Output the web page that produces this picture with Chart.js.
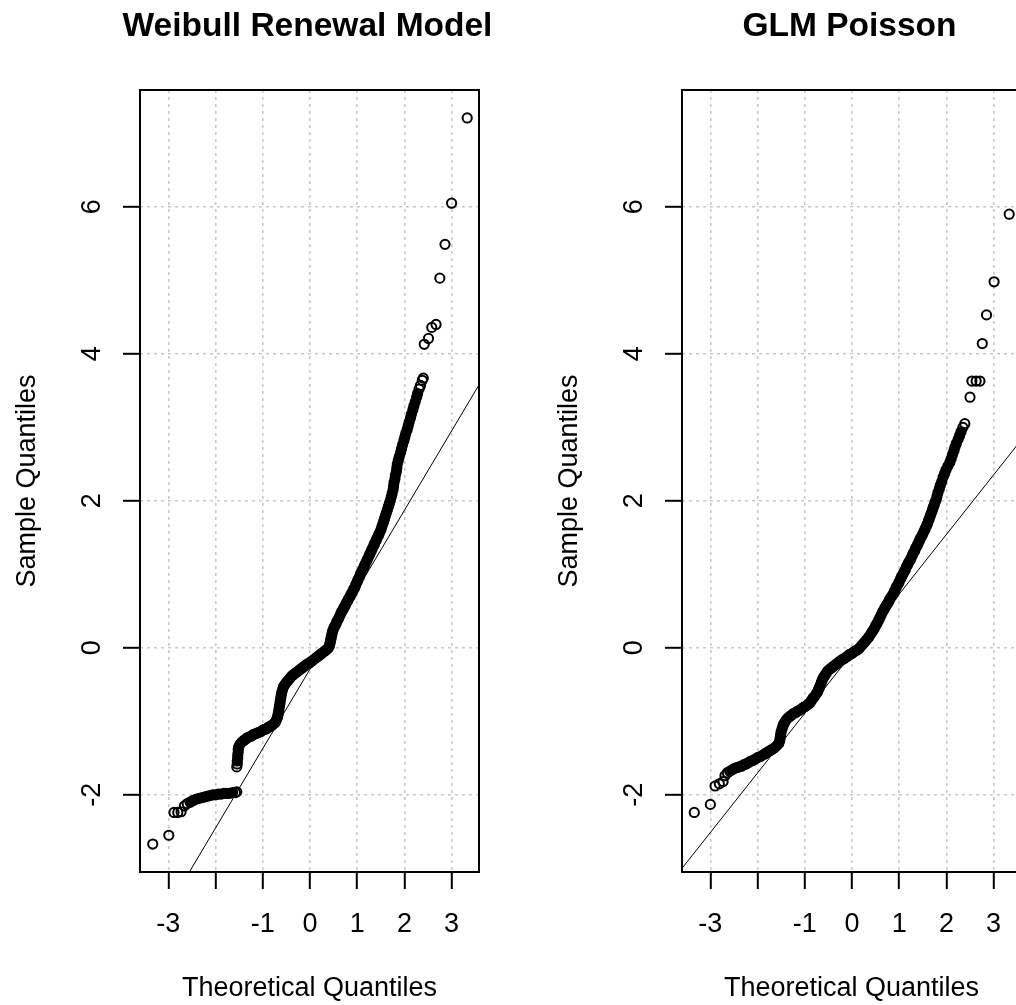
<!DOCTYPE html>
<html>
<head>
<meta charset="utf-8">
<script src="https://cdn.jsdelivr.net/npm/chart.js@4.4.0/dist/chart.umd.min.js"></script>
<style>
html, body { margin: 0; padding: 0; background: #fff; overflow: hidden; }
#lienzo { position: relative; width: 1084px; height: 1005px; }
.panel { position: absolute; top: 0; width: 542px; height: 1005px; }
</style>
</head>
<body>
<div id="lienzo">
  <div class="panel" style="left:0"><canvas id="qqWeibull" width="542" height="1005"></canvas></div>
  <div class="panel" style="left:542px"><canvas id="qqPoisson" width="542" height="1005"></canvas></div>
</div>
<script>
// cuantiles teoricos vs muestrales [x, y]
const weibullQQ = [
  [-3.33,-2.67],[-2.99,-2.55],[-2.88,-2.24],[-2.80,-2.24],[-2.73,-2.23],[-2.66,-2.15],
  [-2.60,-2.12],[-2.54,-2.10],[-2.48,-2.08],[-2.42,-2.06],[-2.36,-2.05],[-2.30,-2.04],[-2.24,-2.03],
  [-2.18,-2.02],[-2.12,-2.01],[-2.06,-2.00],[-2.00,-2.00],[-1.94,-1.99],[-1.88,-1.99],[-1.82,-1.98],
  [-1.76,-1.98],[-1.70,-1.98],[-1.64,-1.97],[-1.58,-1.97],[-1.55,-1.96],
  [-1.55,-1.62],[-1.54,-1.58],[-1.54,-1.54],[-1.53,-1.50],[-1.53,-1.46],[-1.52,-1.42],[-1.52,-1.38],[-1.51,-1.35],
  [-1.48,-1.31],[-1.44,-1.28],[-1.40,-1.26],[-1.36,-1.24],[-1.32,-1.22],[-1.28,-1.21],[-1.24,-1.20],
  [-1.20,-1.18],[-1.16,-1.17],[-1.12,-1.16],[-1.08,-1.15],[-1.04,-1.14],[-1.00,-1.12],[-0.96,-1.11],
  [-0.92,-1.10],[-0.88,-1.08],[-0.84,-1.07],[-0.80,-1.05],[-0.76,-1.03],
  [-0.73,-1.01],[-0.71,-0.98],[-0.69,-0.95],[-0.68,-0.92],[-0.67,-0.89],[-0.66,-0.85],[-0.65,-0.81],
  [-0.64,-0.77],[-0.63,-0.73],[-0.62,-0.69],[-0.61,-0.65],[-0.60,-0.61],[-0.58,-0.57],[-0.56,-0.53],
  [-0.53,-0.50],[-0.50,-0.47],[-0.46,-0.44],
  [-0.42,-0.41],[-0.38,-0.38],[-0.34,-0.36],[-0.30,-0.34],[-0.26,-0.32],[-0.22,-0.30],[-0.18,-0.28],
  [-0.14,-0.26],[-0.10,-0.24],[-0.06,-0.22],[-0.02,-0.21],[0.02,-0.19],[0.06,-0.17],[0.10,-0.15],
  [0.14,-0.13],[0.18,-0.11],[0.22,-0.09],[0.26,-0.07],[0.30,-0.05],[0.34,-0.03],[0.38,-0.01],
  [0.41,0.02],[0.42,0.05],[0.43,0.08],[0.44,0.11],[0.45,0.14],[0.46,0.17],[0.47,0.20],[0.48,0.23],[0.50,0.26],
  [0.52,0.29],[0.55,0.32],[0.57,0.36],[0.60,0.39],[0.62,0.42],[0.65,0.46],[0.67,0.49],[0.70,0.52],
  [0.72,0.55],[0.75,0.58],[0.77,0.61],[0.80,0.64],[0.82,0.67],[0.85,0.70],[0.87,0.73],[0.90,0.76],
  [0.92,0.79],[0.95,0.82],[0.97,0.86],[1.00,0.90],[1.02,0.93],[1.05,0.97],[1.07,1.01],[1.10,1.04],
  [1.12,1.07],[1.15,1.11],[1.17,1.14],[1.20,1.18],[1.22,1.21],[1.25,1.25],[1.27,1.28],[1.30,1.32],
  [1.32,1.35],[1.35,1.39],[1.37,1.42],[1.40,1.46],[1.42,1.49],[1.45,1.53],[1.47,1.56],[1.50,1.60],
  [1.52,1.64],[1.54,1.68],[1.56,1.72],[1.58,1.76],[1.60,1.80],[1.62,1.84],[1.64,1.88],[1.66,1.92],[1.68,1.96],
  [1.70,2.00],[1.72,2.05],[1.74,2.10],[1.76,2.15],[1.77,2.20],[1.78,2.25],[1.80,2.30],[1.81,2.35],
  [1.83,2.40],[1.84,2.45],[1.85,2.50],[1.87,2.55],[1.89,2.60],[1.92,2.66],[1.94,2.71],[1.96,2.76],
  [1.99,2.82],[2.01,2.87],[2.03,2.92],[2.06,2.97],[2.08,3.02],[2.10,3.07],[2.13,3.13],[2.15,3.18],
  [2.18,3.24],[2.20,3.29],[2.23,3.35],[2.26,3.41],[2.28,3.46],[2.31,3.52],[2.34,3.57],[2.38,3.64],[2.40,3.67],
  [2.42,4.13],[2.51,4.21],[2.58,4.36],[2.67,4.40],[2.75,5.03],[2.86,5.49],[3.00,6.05],[3.33,7.21]
];

const poissonQQ = [
  [-3.34,-2.24],[-3.00,-2.13],[-2.90,-1.88],[-2.81,-1.85],[-2.73,-1.82],[-2.69,-1.74],
  [-2.64,-1.70],[-2.59,-1.68],[-2.54,-1.66],[-2.49,-1.64],[-2.44,-1.63],[-2.39,-1.62],[-2.34,-1.61],
  [-2.29,-1.59],[-2.24,-1.58],[-2.19,-1.56],[-2.14,-1.54],[-2.09,-1.53],[-2.04,-1.51],[-1.99,-1.49],
  [-1.94,-1.48],[-1.89,-1.46],[-1.84,-1.44],[-1.79,-1.42],[-1.74,-1.40],[-1.69,-1.38],[-1.64,-1.36],[-1.59,-1.33],
  [-1.55,-1.30],[-1.53,-1.26],[-1.52,-1.22],[-1.51,-1.18],[-1.50,-1.14],[-1.48,-1.10],[-1.46,-1.06],
  [-1.44,-1.03],[-1.41,-1.00],[-1.38,-0.97],[-1.35,-0.95],
  [-1.31,-0.93],[-1.27,-0.91],[-1.23,-0.89],[-1.19,-0.88],[-1.15,-0.86],[-1.11,-0.85],[-1.07,-0.83],
  [-1.03,-0.81],[-0.99,-0.80],[-0.95,-0.78],[-0.91,-0.76],[-0.88,-0.74],[-0.85,-0.71],[-0.82,-0.68],
  [-0.79,-0.66],[-0.76,-0.63],
  [-0.73,-0.60],[-0.71,-0.57],[-0.69,-0.54],[-0.67,-0.51],[-0.65,-0.47],[-0.63,-0.44],[-0.61,-0.41],
  [-0.58,-0.38],[-0.55,-0.35],[-0.52,-0.32],[-0.49,-0.30],
  [-0.45,-0.28],[-0.41,-0.26],[-0.37,-0.24],[-0.33,-0.22],[-0.29,-0.20],[-0.25,-0.18],[-0.21,-0.16],
  [-0.17,-0.15],[-0.13,-0.13],[-0.09,-0.11],[-0.05,-0.09],[-0.01,-0.08],[0.03,-0.06],[0.07,-0.04],
  [0.11,-0.03],[0.15,-0.01],
  [0.19,0.02],[0.23,0.05],[0.27,0.08],[0.31,0.11],[0.35,0.14],[0.38,0.17],[0.41,0.20],[0.44,0.23],
  [0.47,0.26],[0.50,0.30],[0.53,0.33],[0.56,0.37],[0.59,0.41],[0.62,0.45],[0.65,0.49],[0.68,0.52],
  [0.70,0.55],[0.73,0.58],[0.75,0.60],[0.78,0.63],[0.80,0.66],[0.83,0.69],[0.85,0.71],[0.88,0.74],
  [0.90,0.77],[0.93,0.81],[0.95,0.84],[0.98,0.87],[1.00,0.90],[1.03,0.94],[1.05,0.97],[1.08,1.00],
  [1.10,1.03],[1.13,1.06],[1.15,1.10],[1.18,1.13],[1.20,1.16],[1.23,1.19],[1.25,1.22],[1.28,1.26],
  [1.30,1.29],[1.33,1.32],[1.35,1.36],[1.38,1.39],[1.40,1.42],[1.43,1.46],[1.45,1.49],[1.48,1.52],
  [1.50,1.55],[1.53,1.59],[1.55,1.62],[1.58,1.66],[1.60,1.69],[1.62,1.73],[1.64,1.76],[1.66,1.80],
  [1.68,1.83],[1.70,1.87],[1.72,1.91],[1.74,1.94],[1.76,1.98],[1.78,2.01],
  [1.80,2.06],[1.82,2.11],[1.85,2.16],[1.87,2.21],[1.90,2.26],[1.93,2.32],[1.96,2.37],[1.99,2.42],
  [2.03,2.47],[2.07,2.52],[2.10,2.57],[2.13,2.63],[2.16,2.68],[2.18,2.73],[2.21,2.78],[2.25,2.84],
  [2.28,2.89],[2.31,2.94],[2.35,3.00],[2.39,3.05],
  [2.50,3.41],[2.54,3.63],[2.63,3.63],[2.71,3.63],[2.76,4.14],[2.85,4.53],[3.01,4.98],[3.33,5.90]
];

// qqline: extremos de la recta de referencia
const weibullLinea = [[-3.6,-4.18],[3.6,3.60]];
const poissonLinea = [[-3.6,-3.00],[3.6,2.84]];

const xTicks = [-3, -2, -1, 0, 1, 2, 3];
const yTicks = [-2, 0, 2, 4, 6];
const xRango = [-3.6, 3.58];
const yRango = [-3.05, 7.59];

const fuente = "'Liberation Sans', Arial, sans-serif";
Chart.defaults.font.family = fuente;
Chart.defaults.color = '#000';

// donde los circulos se amontonan (racha de vecinos a menos de ~5 px) el trazo queda negro macizo
function rellenoDenso(ctx) {
  if (ctx.type !== 'data') return 'rgba(0,0,0,0)';
  const d = ctx.dataset.data;
  const i = ctx.dataIndex;
  const sx = ctx.chart.scales.x;
  const sy = ctx.chart.scales.y;
  const cerca = (j, k) => {
    if (j < 0 || k >= d.length) return false;
    const dx = sx.getPixelForValue(d[k].x) - sx.getPixelForValue(d[j].x);
    const dy = sy.getPixelForValue(d[k].y) - sy.getPixelForValue(d[j].y);
    return Math.hypot(dx, dy) < 4.9;
  };
  const macizo = cerca(i - 2, i - 1) && cerca(i - 1, i) && cerca(i, i + 1) && cerca(i + 1, i + 2);
  return macizo ? '#000' : 'rgba(0,0,0,0)';
}

// caja completa, titulo y etiquetas del eje y giradas, como en R
const marcoR = {
  id: 'marcoR',
  afterDraw(chart, args, opts) {
    const { ctx, chartArea: a, scales } = chart;
    ctx.save();
    ctx.strokeStyle = '#000';
    ctx.lineWidth = 2;
    ctx.strokeRect(a.left, a.top, a.right - a.left, a.bottom - a.top);
    ctx.fillStyle = '#000';
    ctx.textAlign = 'center';
    ctx.textBaseline = 'alphabetic';
    ctx.font = 'bold 33.5px ' + fuente;
    ctx.fillText(opts.titulo, (a.left + a.right) / 2 - 2, 36);
    ctx.font = '27px ' + fuente;
    yTicks.forEach(v => {
      const py = scales.y.getPixelForValue(v);
      ctx.save();
      ctx.translate(a.left - 40, py);
      ctx.rotate(-Math.PI / 2);
      ctx.fillText(String(v), 0, 0);
      ctx.restore();
    });
    ctx.restore();
  }
};

function crearQQ(canvasId, titulo, puntos, linea) {
  const ctx = document.getElementById(canvasId).getContext('2d');
  return new Chart(ctx, {
    type: 'scatter',
    data: {
      datasets: [
        {
          data: puntos.map(p => ({ x: p[0], y: p[1] })),
          pointRadius: 4.6,
          pointHoverRadius: 4.6,
          pointBorderWidth: 2,
          pointBorderColor: '#000',
          pointBackgroundColor: rellenoDenso,
          showLine: false
        },
        {
          type: 'line',
          data: linea.map(p => ({ x: p[0], y: p[1] })),
          borderColor: '#000',
          borderWidth: 1,
          pointRadius: 0,
          fill: false
        }
      ]
    },
    options: {
      responsive: false,
      animation: false,
      events: [],
      layout: { padding: { left: 0, right: 63, top: 90, bottom: 0 } },
      plugins: {
        legend: { display: false },
        tooltip: { enabled: false },
        title: { display: false },
        marcoR: { titulo: titulo }
      },
      scales: {
        x: {
          type: 'linear',
          min: xRango[0],
          max: xRango[1],
          afterBuildTicks: s => { s.ticks = xTicks.map(v => ({ value: v })); },
          afterFit: s => { s.height = 133; },
          ticks: {
            font: { size: 27 },
            color: '#000',
            padding: 19,
            maxRotation: 0,
            autoSkip: false,
            callback: v => (v === -2 ? '' : String(v))
          },
          grid: { color: '#c8c8c8', lineWidth: 1.6, tickColor: '#000', tickLength: 17, tickWidth: 2 },
          border: { display: false, dash: [3, 4] },
          title: { display: true, text: 'Theoretical Quantiles', color: '#000', font: { size: 27 }, padding: { top: 0, bottom: 0 } }
        },
        y: {
          type: 'linear',
          min: yRango[0],
          max: yRango[1],
          afterBuildTicks: s => { s.ticks = yTicks.map(v => ({ value: v })); },
          afterFit: s => { s.width = 140; },
          ticks: { display: false },
          grid: { color: '#c8c8c8', lineWidth: 1.6, tickColor: '#000', tickLength: 17, tickWidth: 2 },
          border: { display: false, dash: [3, 4] },
          title: { display: true, text: 'Sample Quantiles', color: '#000', font: { size: 27 }, padding: { top: 11.5, bottom: 0 } }
        }
      }
    },
    plugins: [marcoR]
  });
}

crearQQ('qqWeibull', 'Weibull Renewal Model', weibullQQ, weibullLinea);
crearQQ('qqPoisson', 'GLM Poisson', poissonQQ, poissonLinea);
</script>
</body>
</html>
